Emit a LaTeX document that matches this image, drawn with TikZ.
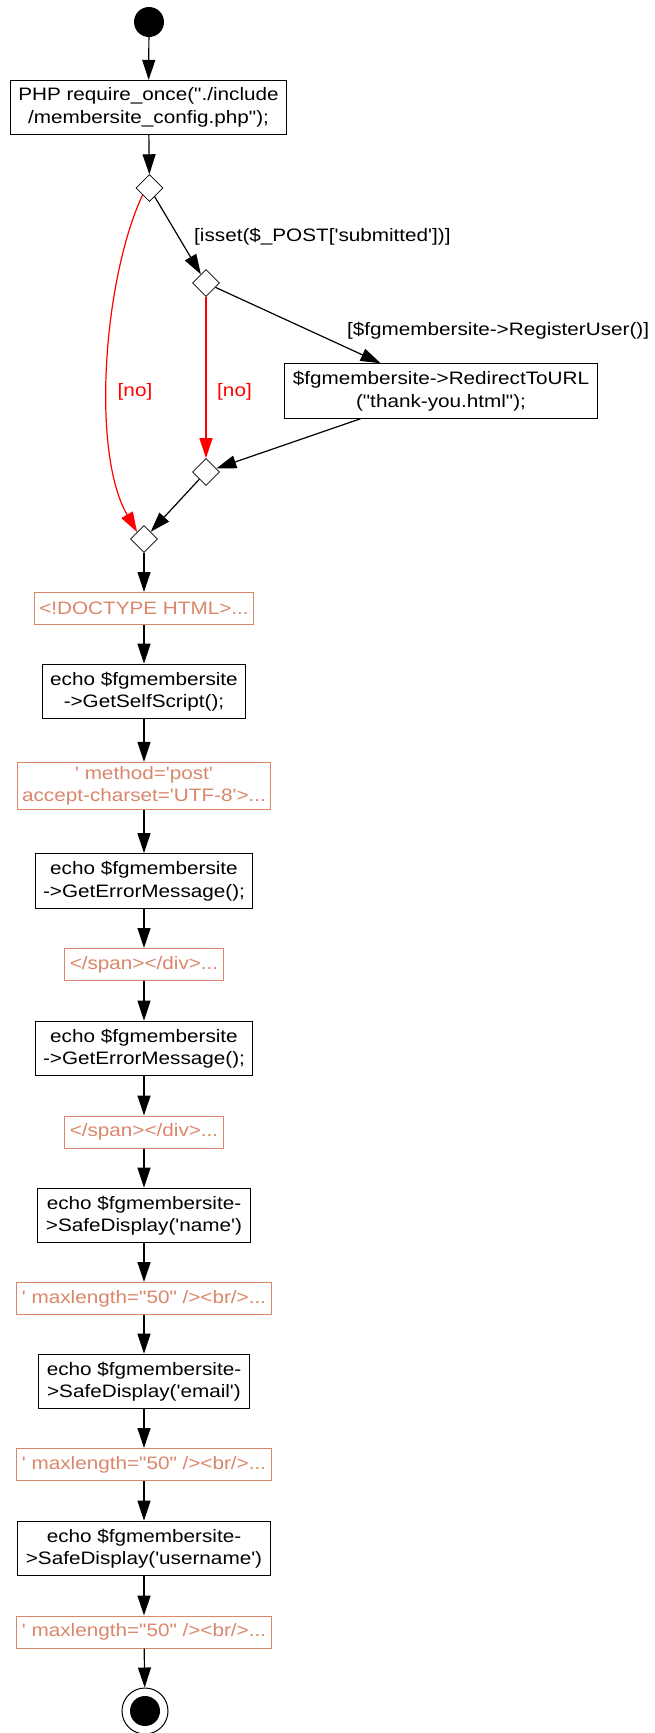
\documentclass[tikz,border=0pt]{standalone}
\usepackage{fontspec}
\setmainfont{Liberation Sans}[Ligatures=TeXOff,FakeStretch=1.15]
\usetikzlibrary{shapes.geometric,arrows.meta}
\definecolor{htmlcol}{RGB}{218,134,106}

\begin{document}
\begin{tikzpicture}[x=1pt,y=1pt,font=\fontsize{18}{22.5}\selectfont,
    php/.style={draw,line width=1pt,align=center,inner xsep=8pt,inner ysep=7.5pt},
    html/.style={php,draw=htmlcol,text=htmlcol,minimum height=32pt,inner xsep=5pt,inner ysep=4pt},
    choice/.style={diamond,draw,line width=0.8pt,minimum size=27pt,inner sep=0pt},
    guard/.style={inner sep=0pt},
    flow/.style={line width=1.2pt,-{Triangle[length=20pt,width=13pt]}}]
  \useasboundingbox (0,0) rectangle (655,-1733);
  \node[circle,fill,minimum size=30pt,inner sep=0pt] (start) at (149,-22) {};
  \node[php] (init) at (148.5,-107.5) {PHP require\_once("./include\\/membersite\_config.php");};
  \node[choice] (d1) at (149.5,-188) {};
  \node[choice] (d2) at (206,-283) {};
  \node[php] (redir) at (441,-391) {\$fgmembersite->RedirectToURL\\("thank-you.html");};
  \node[choice] (d3) at (206,-472) {};
  \node[choice] (d4) at (144,-539) {};
  % echo / html output chain
  \foreach \ypos/\nm/\kind/\txt in {
      608.5/doc/html/{<!DOCTYPE HTML>...},
      691.5/self/php/{echo \$fgmembersite\\->GetSelfScript();},
      786/method/html/{' method='post'\\accept-charset='UTF-8'>...},
      881/err1/php/{echo \$fgmembersite\\->GetErrorMessage();},
      964.5/span1/html/{</span></div>...},
      1048.5/err2/php/{echo \$fgmembersite\\->GetErrorMessage();},
      1132/span2/html/{</span></div>...},
      1215.5/name/php/{echo \$fgmembersite-\\>SafeDisplay('name')},
      1298.5/max1/html/{' maxlength="50" /><br/>...},
      1381.5/email/php/{echo \$fgmembersite-\\>SafeDisplay('email')},
      1464.5/max2/html/{' maxlength="50" /><br/>...},
      1548.5/user/php/{echo \$fgmembersite-\\>SafeDisplay('username')},
      1632/max3/html/{' maxlength="50" /><br/>...}}
    \node[\kind] (\nm) at (144,-\ypos) {\txt};
  \node[circle,draw,line width=1pt,minimum size=46pt,inner sep=0pt] (stop) at (145,-1711) {};
  \node[circle,fill,minimum size=30pt,inner sep=0pt] (stopdot) at (stop) {};
  % guards
  \node[guard,anchor=west] (cond1) at (194,-237) {[isset(\$\_POST['submitted'])]};
  \node[guard,anchor=west] (cond2) at (347,-331) {[\$fgmembersite->RegisterUser()]};
  \node[guard,text=red] (no1) at (135,-392) {[no]};
  \node[guard,text=red] (no2) at (234.5,-392) {[no]};
  \foreach \src/\dst in {start/init,init/d1,d1/d2,d2/redir,redir/d3,d3/d4,d4/doc,
      doc/self,self/method,method/err1,err1/span1,span1/err2,err2/span2,span2/name,
      name/max1,max1/email,email/max2,max2/user,user/max3,max3/stop}
    \draw[flow] (\src) -- (\dst);
  \draw[flow,red] (d2) -- (d3);
  \draw[flow,red] (d1.south west) to[out=245,in=120,looseness=0.7] (d4.north west);
\end{tikzpicture}
\end{document}
